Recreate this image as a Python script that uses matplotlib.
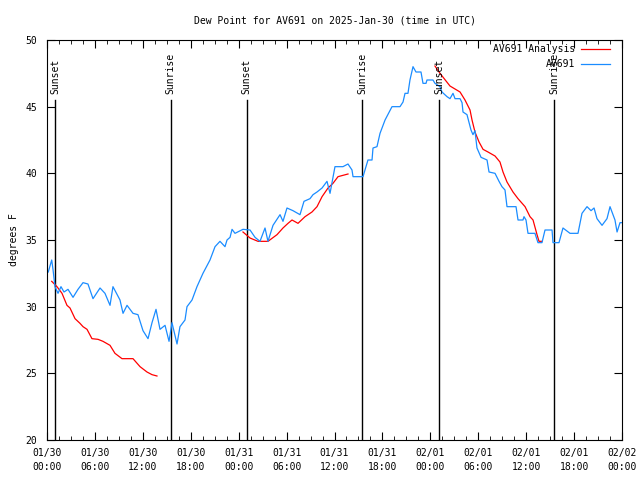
import numpy as np
import matplotlib
matplotlib.use("Agg")
import matplotlib.pyplot as plt

# hours since 2025-01-30 00:00 UTC, dew point in F
obs_hours = [0.16, 0.59, 0.75, 1.0, 1.38, 1.75, 2.13, 2.63, 3.26, 3.88, 4.51, 5.13, 5.76,
             6.64, 7.26, 7.89, 8.26, 9.14, 9.52, 10.02, 10.77, 11.39, 12.02, 12.65, 13.15,
             13.65, 14.15, 14.78, 15.28, 15.65, 16.28, 16.65, 17.28, 17.53, 18.16, 18.78,
             19.53, 20.41, 21.04, 21.66, 22.29, 22.54, 22.92, 23.17, 23.54, 24.54, 25.42,
             26.05, 26.67, 27.3, 27.67, 28.3, 29.18, 29.55, 30.05, 30.8, 31.68, 32.18,
             32.93, 33.31, 33.81, 34.44, 35.06, 35.44, 35.69, 36.06, 37.06, 37.69, 38.19,
             38.32, 39.57, 39.94, 40.19, 40.7, 40.82, 41.32, 41.7, 42.33, 43.2, 44.2,
             44.58, 44.83, 45.2, 45.45, 45.83, 46.2, 46.83, 47.08, 47.46, 47.58, 48.33,
             48.58, 49.21, 49.46, 50.09, 50.46, 50.84, 51.09, 51.72, 51.97, 52.09, 52.59,
             53.09, 53.34, 53.59, 53.84, 54.35, 55.1, 55.35, 56.1, 56.6, 56.97, 57.35,
             57.6, 58.73, 58.98, 59.6, 59.73, 59.98, 60.23, 61.1, 61.48, 61.98, 62.36,
             63.24, 63.36, 64.11, 64.61, 65.49, 66.49, 66.99, 67.62, 68.12, 68.5, 68.87,
             69.5, 70.12, 70.5, 71.12, 71.38, 71.75, 72.0]
obs_dewp = [32.6, 33.5, 32.8, 31.5, 31.0, 31.5, 31.1, 31.3, 30.7, 31.3, 31.8, 31.7, 30.6,
            31.4, 31.0, 30.1, 31.5, 30.5, 29.5, 30.1, 29.5, 29.4, 28.2, 27.6, 28.8,
            29.8, 28.3, 28.6, 27.4, 28.8, 27.2, 28.5, 29.0, 30.0, 30.5, 31.5,
            32.5, 33.5, 34.5, 34.9, 34.5, 35.0, 35.2, 35.8, 35.5, 35.8, 35.75,
            35.2, 34.9, 35.9, 34.9, 36.1, 36.9, 36.4, 37.4, 37.2, 36.9, 37.9,
            38.1, 38.4, 38.6, 38.9, 39.4, 38.5, 39.3, 40.5, 40.5, 40.7, 40.25,
            39.75, 39.75, 40.5, 41.0, 41.0, 41.9, 42.0, 43.0, 44.0, 45.0, 45.0,
            45.35, 46.0, 46.0, 47.0, 48.0, 47.6, 47.6, 46.75, 46.75, 47.0, 47.0,
            46.75, 46.5, 46.1, 45.75, 45.6, 46.0, 45.6, 45.6, 45.3, 44.6, 44.4,
            43.25, 42.9, 43.2, 41.9, 41.2, 41.0, 40.1, 40.0, 39.4, 39.0, 38.75,
            37.5, 37.5, 36.5, 36.5, 36.75, 36.5, 35.5, 35.5, 34.8, 34.8, 35.75,
            35.75, 34.8, 34.8, 35.9, 35.5, 35.5, 37.0, 37.5, 37.2, 37.4, 36.6,
            36.1, 36.6, 37.5, 36.5, 35.6, 36.3, 36.3]

# analysis runs (NaN separates the three runs)
ana_hours = [0.59, 1.25, 1.88, 2.5, 2.88, 3.51, 4.13, 4.51, 5.01, 5.63, 6.39, 7.01, 7.89,
             8.51, 9.39, 10.77, 11.65, 12.52, 13.15, 13.77, np.nan,
             24.54, 25.42, 26.42, 27.67, 28.8, 29.55, 30.18, 30.68, 31.43, 32.31, 33.18,
             33.81, 34.44, 35.19, 35.81, 36.44, 37.69, np.nan,
             48.58, 49.21, 50.46, 51.72, 52.34, 52.97, 53.22, 53.59, 54.1, 54.6,
             55.22, 56.1, 56.72, 57.1, 57.6, 58.35, 58.98, 59.86, 60.48, 60.86, 61.36,
             61.61, 61.98]
ana_dewp = [31.9, 31.5, 31.0, 30.1, 29.9, 29.1, 28.75, 28.5, 28.3, 27.6, 27.55, 27.4, 27.1,
            26.5, 26.1, 26.1, 25.5, 25.1, 24.9, 24.8, np.nan,
            35.6, 35.15, 34.9, 34.9, 35.4, 35.9, 36.25, 36.5, 36.25, 36.75, 37.1,
            37.5, 38.25, 38.9, 39.25, 39.75, 39.95, np.nan,
            48.05, 47.5, 46.55, 46.1, 45.5, 44.75, 44.0, 43.1, 42.35, 41.8,
            41.6, 41.3, 40.85, 40.1, 39.35, 38.6, 38.1, 37.5, 36.75, 36.5, 35.4,
            34.9, 34.9]

sun_hours = [1.0, 15.5, 25.0, 39.45, 49.1, 63.5]
sun_labels = ["Sunset", "Sunrise", "Sunset", "Sunrise", "Sunset", "Sunrise"]

start = np.datetime64("2025-01-30T00:00")
tick_hours = list(range(0, 73, 6))
tick_labels = []
for h in tick_hours:
    t = (start + np.timedelta64(h, "h")).astype(object)
    tick_labels.append(t.strftime("%m/%d\n%H:%M"))

plt.rcParams["font.family"] = ["DejaVu Sans Mono"]
plt.rcParams["font.size"] = 7

fig = plt.figure(figsize=(6.4, 4.8), dpi=100)
ax = fig.add_axes([47/640, 40/480, 575/640, 400/480])

for h, lab in zip(sun_hours, sun_labels):
    ax.plot([h, h], [20, 45.5], color="black", lw=1)
    ax.text(h, 45.95, lab, rotation=90, ha="center", va="bottom", fontsize=7)

ax.plot(ana_hours, ana_dewp, color="#ff0000", lw=0.9, label="AV691 Analysis")
ax.plot(obs_hours, obs_dewp, color="#1a8cff", lw=0.9, label="AV691")

ax.set_xlim(0, 72)
ax.set_ylim(20, 50)
ax.set_xticks(tick_hours)
ax.set_xticklabels(tick_labels, linespacing=1.5)
ax.set_xticks(np.arange(0, 72.1, 1.5), minor=True)
ax.set_yticks(range(20, 51, 5))
ax.tick_params(which="both", direction="in", top=True, right=True, labelsize=7)
ax.tick_params(which="major", length=6)
ax.tick_params(which="minor", length=3)
ax.tick_params(axis="x", pad=6)
ax.tick_params(axis="y", pad=7)
ax.set_ylabel("degrees F", labelpad=5)
ax.set_title("Dew Point for AV691 on 2025-Jan-30 (time in UTC)", fontsize=7, pad=12)

leg = ax.legend(loc="upper right", bbox_to_anchor=(1 - 12/575, 1 - 4.5/400),
                frameon=False, markerfirst=False, fontsize=7,
                handlelength=3.0, borderaxespad=0, borderpad=0, labelspacing=0.5,
                handletextpad=0.6)

fig.savefig("out.png", dpi=100)
